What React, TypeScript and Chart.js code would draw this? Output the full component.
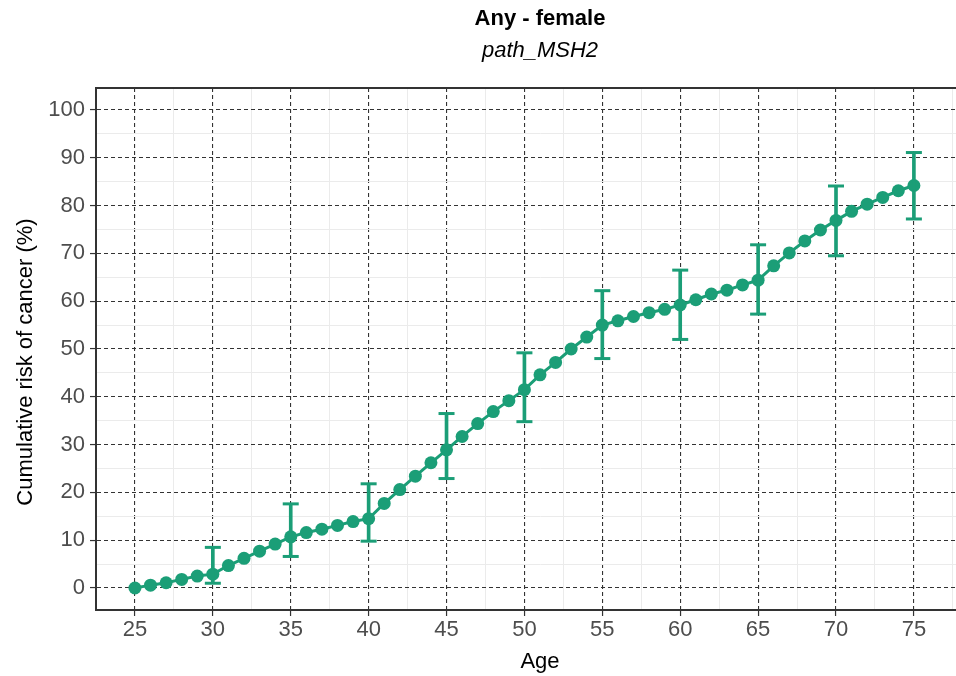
import React, { useEffect, useRef } from 'react';
import { Chart, registerables } from 'chart.js';

Chart.register(...registerables);

// ---- data ----
const ages = [25, 26, 27, 28, 29, 30, 31, 32, 33, 34, 35, 36, 37, 38, 39, 40, 41, 42, 43, 44, 45, 46, 47, 48, 49, 50,
  51, 52, 53, 54, 55, 56, 57, 58, 59, 60, 61, 62, 63, 64, 65, 66, 67, 68, 69, 70, 71, 72, 73, 74, 75];
const risk = [0.0, 0.6, 1.1, 1.8, 2.5, 2.9, 4.7, 6.2, 7.7, 9.2, 10.7, 11.6, 12.3, 13.1, 13.9, 14.5, 17.7, 20.6, 23.4, 26.2,
  28.9, 31.7, 34.4, 36.9, 39.2, 41.5, 44.6, 47.2, 50.0, 52.5, 55.0, 55.9, 56.8, 57.6, 58.3, 59.2, 60.3, 61.5, 62.3, 63.4,
  64.4, 67.4, 70.1, 72.6, 74.9, 76.9, 78.8, 80.3, 81.7, 83.1, 84.2];
const ciAges = [30, 35, 40, 45, 50, 55, 60, 65, 70, 75];
const ciLower = [1.0, 6.6, 9.8, 22.9, 34.8, 48.0, 52.0, 57.3, 69.5, 77.2];
const ciUpper = [8.5, 17.6, 21.8, 36.5, 49.2, 62.2, 66.5, 71.8, 84.1, 91.1];
const xTicks = [25, 30, 35, 40, 45, 50, 55, 60, 65, 70, 75];
const yTicks = [0, 10, 20, 30, 40, 50, 60, 70, 80, 90, 100];
const titleText = 'Any - female';
const subtitleText = 'path_MSH2';
const xTitleText = 'Age';
const yTitleText = 'Cumulative risk of cancer (%)';

const GREEN = '#1b9e77';
const DARK = '#333333';
const MINOR = '#ebebeb';
const FONT = "'Liberation Sans', Arial, Helvetica, sans-serif";

const xMinor = xTicks.map((v) => v + 2.5);
const yMinor = yTicks.slice(0, -1).map((v) => v + 5);
const xMajorSet = new Set(xTicks);
const yMajorSet = new Set(yTicks);

const frameAndTitle = {
  id: 'frameAndTitle',
  afterDraw(chart: any) {
    const { ctx, chartArea } = chart;
    ctx.save();
    ctx.strokeStyle = DARK;
    ctx.lineWidth = 2;
    ctx.beginPath();
    ctx.moveTo(chartArea.left, chartArea.top);
    ctx.lineTo(chartArea.right, chartArea.top);
    ctx.stroke();
    // y axis title
    ctx.translate(25.5, (chartArea.top + chartArea.bottom) / 2 + 13);
    ctx.rotate(-Math.PI / 2);
    ctx.fillStyle = '#000';
    ctx.font = `22px ${FONT}`;
    ctx.textAlign = 'center';
    ctx.textBaseline = 'middle';
    ctx.fillText(yTitleText, 0, 0);
    ctx.restore();
  },
};

function gridOpts(majorSet: Set<number>) {
  const isMajor = (c: any) => c && c.tick && majorSet.has(c.tick.value);
  return {
    grid: {
      offset: false,
      color: (c: any) => (isMajor(c) ? DARK : MINOR),
      lineWidth: (c: any) => (isMajor(c) ? 1.1 : 1),
      tickColor: (c: any) => (isMajor(c) ? DARK : 'rgba(0,0,0,0)'),
      tickLength: 6,
      tickWidth: 1.2,
      drawTicks: true,
    },
    border: {
      display: true,
      color: DARK,
      width: 2,
      dash: (c: any) => (isMajor(c) ? [4, 3] : []),
    },
  };
}

export default function App() {
  const ref = useRef<HTMLCanvasElement | null>(null);

  useEffect(() => {
    if (!ref.current) return;
    Chart.defaults.font.family = FONT;
    const chart = new Chart(ref.current, {
      type: 'line',
      data: {
        datasets: [
          {
            type: 'line',
            data: ages.map((a, i) => ({ x: a, y: risk[i] })),
            borderColor: GREEN,
            backgroundColor: GREEN,
            borderWidth: 3,
            pointRadius: 6.5,
            pointBackgroundColor: GREEN,
            pointBorderWidth: 0,
            tension: 0,
            order: 3,
          },
          {
            type: 'bar',
            data: ciAges.map((a, i) => ({ x: a, y: [ciLower[i], ciUpper[i]] })) as any,
            backgroundColor: GREEN,
            borderWidth: 0,
            barThickness: 3,
            order: 2,
          },
          {
            type: 'line',
            data: ciAges.map((a, i) => ({ x: a, y: ciLower[i] })),
            showLine: false,
            pointStyle: 'line',
            pointRadius: 8,
            pointBorderWidth: 3,
            pointBorderColor: GREEN,
            borderColor: GREEN,
            order: 1,
          },
          {
            type: 'line',
            data: ciAges.map((a, i) => ({ x: a, y: ciUpper[i] })),
            showLine: false,
            pointStyle: 'line',
            pointRadius: 8,
            pointBorderWidth: 3,
            pointBorderColor: GREEN,
            borderColor: GREEN,
            order: 1,
          },
        ] as any,
      },
      options: {
        animation: false,
        responsive: false,
        maintainAspectRatio: false,
        devicePixelRatio: 1,
        layout: { padding: { left: 0, right: 0, top: 0, bottom: 0 } },
        plugins: {
          legend: { display: false },
          tooltip: { enabled: false },
          title: {
            display: true,
            text: titleText,
            color: '#000',
            font: { family: FONT, size: 22, weight: 'bold' },
            padding: { top: 6, bottom: 3 },
          },
          subtitle: {
            display: true,
            text: subtitleText,
            color: '#000',
            font: { family: FONT, size: 22, style: 'italic' },
            padding: { top: 2, bottom: 24.2 },
          },
        },
        scales: {
          x: {
            type: 'linear',
            position: 'bottom',
            min: 22.5,
            max: 79.5,
            offset: false,
            afterBuildTicks: (s: any) => {
              s.ticks = [...xTicks, ...xMinor].sort((a, b) => a - b).map((v) => ({ value: v }));
            },
            afterFit: (s: any) => {
              s.height = 66;
            },
            ticks: {
              autoSkip: false,
              maxRotation: 0,
              minRotation: 0,
              padding: 1,
              color: '#4d4d4d',
              font: { family: FONT, size: 22 },
              callback: (v: any) => (xMajorSet.has(Number(v)) ? String(v) : ''),
            },
            title: {
              display: true,
              text: xTitleText,
              color: '#000',
              font: { family: FONT, size: 22 },
              padding: { top: 0, bottom: 1 },
            },
            ...gridOpts(xMajorSet),
          },
          y: {
            type: 'linear',
            position: 'left',
            min: -4.6,
            max: 104.6,
            afterBuildTicks: (s: any) => {
              s.ticks = [...yTicks, ...yMinor].sort((a, b) => a - b).map((v) => ({ value: v }));
            },
            afterFit: (s: any) => {
              s.width = 96;
            },
            ticks: {
              autoSkip: false,
              padding: 5,
              color: '#4d4d4d',
              font: { family: FONT, size: 22 },
              callback: (v: any) => (yMajorSet.has(Number(v)) ? String(v) : ''),
            },
            title: { display: false },
            ...gridOpts(yMajorSet),
          },
          yRight: {
            type: 'linear',
            position: 'right',
            display: true,
            grid: { display: false, drawTicks: false },
            border: { display: false },
            ticks: { display: false },
            afterFit: (s: any) => {
              s.width = 96;
            },
          },
        },
      } as any,
      plugins: [frameAndTitle],
    });
    return () => chart.destroy();
  }, []);

  return (
    <div
      style={{
        position: 'fixed',
        left: 0,
        top: 0,
        width: 956,
        height: 676,
        overflow: 'hidden',
        background: '#fff',
      }}
    >
      <canvas ref={ref} width={1080} height={676} style={{ width: 1080, height: 676, display: 'block' }} />
    </div>
  );
}
